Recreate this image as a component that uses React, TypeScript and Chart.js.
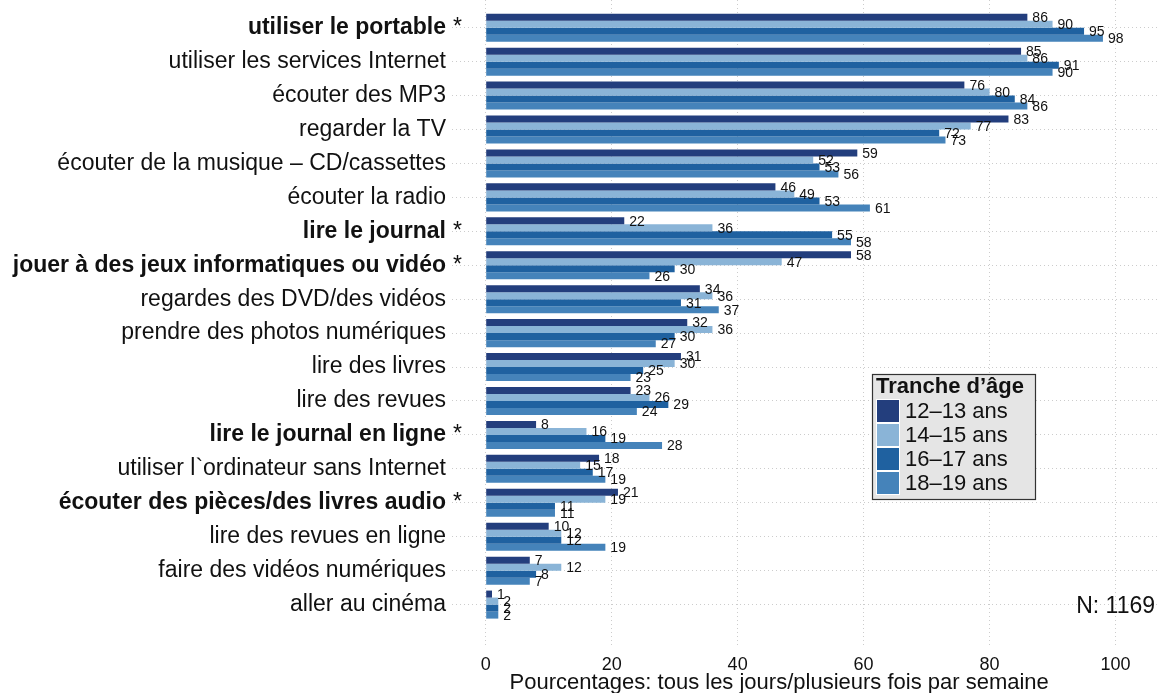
import React, { useEffect, useRef } from 'react';
import { Chart, registerables } from 'chart.js';

Chart.register(...registerables);

const categories = [
  'utiliser le portable',
  'utiliser les services Internet',
  'écouter des MP3',
  'regarder la TV',
  'écouter de la musique – CD/cassettes',
  'écouter la radio',
  'lire le journal',
  'jouer à des jeux informatiques ou vidéo',
  'regardes des DVD/des vidéos',
  'prendre des photos numériques',
  'lire des livres',
  'lire des revues',
  'lire le journal en ligne',
  'utiliser l`ordinateur sans Internet',
  'écouter des pièces/des livres audio',
  'lire des revues en ligne',
  'faire des vidéos numériques',
  'aller au cinéma',
];
const starred = [true, false, false, false, false, false, true, true, false, false, false, false, true, false, true, false, false, false];

const ageGroups = ['12–13 ans', '14–15 ans', '16–17 ans', '18–19 ans'];
const colors = ['#233E7D', '#8AB4D7', '#1F61A0', '#4583BA'];

const v12 = [86, 85, 76, 83, 59, 46, 22, 58, 34, 32, 31, 23, 8, 18, 21, 10, 7, 1];
const v14 = [90, 86, 80, 77, 52, 49, 36, 47, 36, 36, 30, 26, 16, 15, 19, 12, 12, 2];
const v16 = [95, 91, 84, 72, 53, 53, 55, 30, 31, 30, 25, 29, 19, 17, 11, 12, 8, 2];
const v18 = [98, 90, 86, 73, 56, 61, 58, 26, 37, 27, 23, 24, 28, 19, 11, 19, 7, 2];
const seriesValues = [v12, v14, v16, v18];

const xTicks = [0, 20, 40, 60, 80, 100];
const xTitle = 'Pourcentages: tous les jours/plusieurs fois par semaine';
const legendTitle = 'Tranche d’âge';
const sampleNote = 'N: 1169';

const FONT = '"Liberation Sans", Arial, Helvetica, sans-serif';

const valueLabelsPlugin = {
  id: 'valueLabels',
  afterDatasetsDraw(chart: any) {
    const ctx = chart.ctx;
    ctx.save();
    ctx.font = `14px ${FONT}`;
    ctx.fillStyle = '#111';
    ctx.textAlign = 'left';
    ctx.textBaseline = 'middle';
    chart.data.datasets.forEach((ds: any, i: number) => {
      const meta = chart.getDatasetMeta(i);
      meta.data.forEach((el: any, j: number) => {
        const v = ds.data[j].x;
        ctx.fillText(String(Math.round(v)), el.x + 5, el.y + 1);
      });
    });
    ctx.restore();
  },
};

const decorationsPlugin = {
  id: 'decorations',
  afterDraw(chart: any) {
    const ctx = chart.ctx;
    const area = chart.chartArea;
    const xs = chart.scales.x;
    const ys = chart.scales.y;
    ctx.save();

    // significance stars after bold labels
    ctx.font = `23px ${FONT}`;
    ctx.fillStyle = '#111';
    ctx.textAlign = 'left';
    ctx.textBaseline = 'middle';
    starred.forEach((s, j) => {
      if (s) ctx.fillText('*', area.left + 1, ys.getPixelForValue(j));
    });

    // sample size note
    ctx.textAlign = 'right';
    ctx.fillText(sampleNote, area.right - 4, ys.getPixelForValue(categories.length - 1) + 2);

    // x axis title
    ctx.font = `22px ${FONT}`;
    ctx.textAlign = 'center';
    ctx.fillText(xTitle, xs.getPixelForValue(46.6), chart.height - 10);

    // legend
    const bx = area.right - 287;
    const by = area.top + 374;
    const bw = 163;
    const bh = 125;
    ctx.fillStyle = '#E5E5E5';
    ctx.fillRect(bx, by, bw, bh);
    ctx.strokeStyle = '#333';
    ctx.lineWidth = 1.2;
    ctx.strokeRect(bx + 0.5, by + 0.5, bw, bh);

    ctx.fillStyle = '#111';
    ctx.textAlign = 'left';
    ctx.font = `bold 22px ${FONT}`;
    ctx.fillText(legendTitle, bx + 4, by + 13);

    ctx.font = `22px ${FONT}`;
    chart.data.datasets.forEach((ds: any, k: number) => {
      const sy = by + 25 + k * 24;
      ctx.fillStyle = ds.backgroundColor;
      ctx.fillRect(bx + 4, sy, 24, 24);
      ctx.strokeStyle = '#fff';
      ctx.lineWidth = 1;
      ctx.strokeRect(bx + 4.5, sy + 0.5, 23, 23);
      ctx.fillStyle = '#111';
      ctx.fillText(ds.label, bx + 33, sy + 13);
    });

    ctx.restore();
  },
};

export default function App() {
  const canvasRef = useRef<HTMLCanvasElement | null>(null);

  useEffect(() => {
    if (!canvasRef.current) return;
    const chart = new Chart(canvasRef.current, {
      type: 'bar',
      data: {
        datasets: seriesValues.map((vals, i) => ({
          label: ageGroups[i],
          data: vals.map((v, j) => ({ x: v, y: j })),
          backgroundColor: colors[i],
          borderWidth: 0,
          categoryPercentage: 0.826,
          barPercentage: 1,
        })),
      },
      options: {
        indexAxis: 'y',
        responsive: false,
        animation: false,
        devicePixelRatio: 1,
        layout: { padding: 0 },
        plugins: {
          legend: { display: false },
          tooltip: { enabled: false },
          title: { display: false },
        },
        scales: {
          x: {
            type: 'linear',
            position: 'bottom',
            min: -5.35,
            max: 106.9,
            offset: false,
            afterBuildTicks: (scale: any) => {
              scale.ticks = xTicks.map((v) => ({ value: v }));
            },
            afterFit: (scale: any) => {
              scale.height = 46;
              scale.paddingLeft = 0;
              scale.paddingRight = 0;
            },
            grid: { color: '#CCCCCC', lineWidth: 1, drawTicks: false, offset: false },
            border: { display: false, dash: [1, 3] },
            ticks: {
              padding: 7,
              color: '#111',
              font: { family: FONT, size: 18 },
              maxRotation: 0,
              callback: (v: any) => String(v),
            },
          },
          y: {
            type: 'linear',
            position: 'left',
            reverse: true,
            offset: false,
            min: -0.817,
            max: 18.25,
            afterBuildTicks: (scale: any) => {
              scale.ticks = categories.map((_, j) => ({ value: j }));
            },
            afterFit: (scale: any) => {
              scale.width = 452;
              scale.paddingTop = 0;
              scale.paddingBottom = 0;
            },
            grid: { color: '#CCCCCC', lineWidth: 1, drawTicks: false, offset: false },
            border: { display: false, dash: [1, 3] },
            ticks: {
              padding: 6,
              color: '#111',
              autoSkip: false,
              font: (c: any) => ({
                family: FONT,
                size: 23,
                weight: c.tick && starred[c.tick.value] ? 'bold' : 'normal',
              }),
              callback: (v: any) => categories[v] ?? '',
            },
          },
        },
      },
      plugins: [valueLabelsPlugin, decorationsPlugin],
    } as any);
    return () => chart.destroy();
  }, []);

  return (
    <div style={{ position: 'absolute', left: 0, top: 0, width: 1159, height: 693, background: '#fff' }}>
      <canvas ref={canvasRef} width={1159} height={693} />
    </div>
  );
}
